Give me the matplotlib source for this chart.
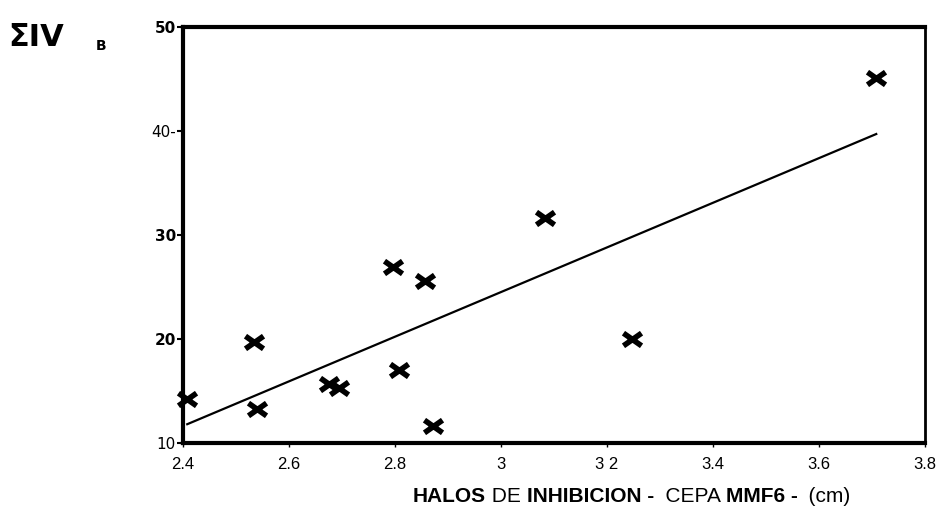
import numpy as np
import matplotlib.pyplot as plt
from matplotlib.path import Path

# Halo diameter (cm) vs. sum of IV_B
halo_cm = [2.408, 2.534, 2.540, 2.675, 2.694, 2.796, 2.808, 2.857, 2.872, 3.083, 3.247, 3.708]
sum_iv = [14.2, 19.7, 13.3, 15.7, 15.3, 26.9, 17.0, 25.6, 11.6, 31.6, 20.0, 45.1]

x_ticks = [2.4, 2.6, 2.8, 3.0, 3.2, 3.4, 3.6, 3.8]
x_ticklabels = ["2.4", "2.6", "2.8", "3", "3 2", "3.4", "3.6", "3.8"]
y_ticks = [10, 20, 30, 40, 50]
y_ticklabels = ["10", "20", "30", "40-", "50"]

# flattened cross marker, wider than tall
cross = Path([(-1, -0.7), (1, 0.7), (-1, 0.7), (1, -0.7)],
             [Path.MOVETO, Path.LINETO, Path.MOVETO, Path.LINETO])

fig = plt.figure(figsize=(9.4, 5.08), dpi=100)
ax = fig.add_axes([183 / 940, 1 - 443 / 508, (925 - 183) / 940, (443 - 27) / 508])

# least-squares line through the points
slope, intercept = np.polyfit(halo_cm, sum_iv, 1)
xl = np.array([min(halo_cm), max(halo_cm)])
ax.plot(xl, slope * xl + intercept, color="black", lw=1.6, zorder=2)

ax.plot(halo_cm, sum_iv, linestyle="none", marker=cross, ms=13, mew=4,
        color="black", zorder=3, clip_on=False)

ax.set_xlim(2.4, 3.8)
ax.set_ylim(10, 50)
ax.set_xticks(x_ticks)
ax.set_xticklabels(x_ticklabels, fontsize=12, family="Liberation Sans")
ax.set_yticks(y_ticks)
ax.set_yticklabels(y_ticklabels, fontsize=11)
for lab in ax.get_yticklabels():
    if lab.get_text() in ("50", "30", "20"):
        lab.set_fontweight("bold")
ax.tick_params(axis="x", length=3, width=1, pad=7)
ax.tick_params(axis="y", length=4, width=1.5, pad=1)

for side in ("left", "bottom", "top"):
    ax.spines[side].set_linewidth(3)
ax.spines["right"].set_linewidth(2)

# axis titles
fig.text(8 / 940, 1 - 38 / 508, "ΣIV", fontsize=22, fontweight="bold",
         va="center", ha="left", family="DejaVu Sans")
fig.text(96 / 940, 1 - 46 / 508, "B", fontsize=10, fontweight="bold",
         va="center", ha="left")

parts = [("HALOS", "bold"), (" DE ", "normal"), ("INHIBICION -", "bold"),
         ("  CEPA ", "normal"), ("MMF6 -", "bold"), ("  (cm)", "normal")]
renderer = fig.canvas.get_renderer()
x0 = 413
for txt, w in parts:
    t = fig.text(x0 / 940, 1 - 496 / 508, txt, fontsize=15, fontweight=w,
                 family="Liberation Sans", va="center", ha="left")
    bb = t.get_window_extent(renderer=renderer)
    x0 += bb.width

fig.savefig("out.png", dpi=100)
